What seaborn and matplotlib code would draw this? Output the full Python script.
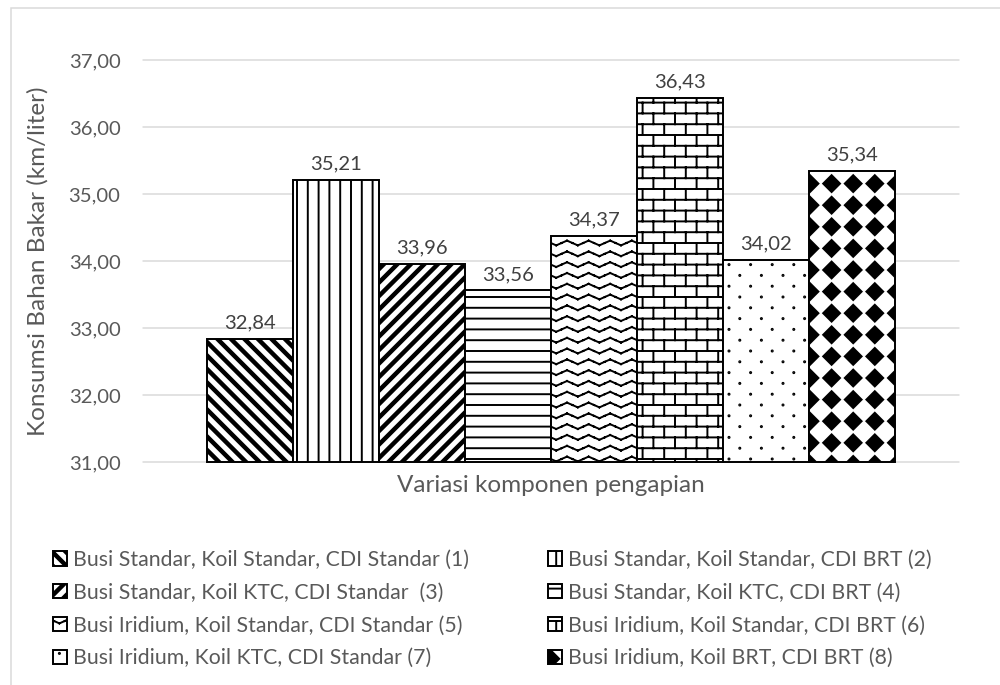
import warnings

import numpy as np
import pandas as pd
import matplotlib
matplotlib.use("Agg")
import matplotlib.pyplot as plt
import matplotlib.hatch as mhatch
from matplotlib.path import Path
from matplotlib.patches import Rectangle
from matplotlib.ticker import FuncFormatter, MultipleLocator
import seaborn as sns

warnings.filterwarnings("ignore", message=".*hatch must consist.*")

# ---------------------------------------------------------------- data
variasi = [
    "Busi Standar, Koil Standar, CDI Standar (1)",
    "Busi Standar, Koil Standar, CDI BRT (2)",
    "Busi Standar, Koil KTC, CDI Standar  (3)",
    "Busi Standar, Koil KTC, CDI BRT (4)",
    "Busi Iridium, Koil Standar, CDI Standar (5)",
    "Busi Iridium, Koil Standar, CDI BRT (6)",
    "Busi Iridium, Koil KTC, CDI Standar (7)",
    "Busi Iridium, Koil BRT, CDI BRT (8)",
]
konsumsi = [32.84, 35.21, 33.96, 33.56, 34.37, 36.43, 34.02, 35.34]
kelompok = ["Variasi komponen pengapian"] * len(variasi)

judul_x = "Variasi komponen pengapian"
judul_y = "Konsumsi Bahan Bakar (km/liter)"

# one fill texture per variation (custom hatch symbols defined below)
tekstur = ["a", "v", "b", "h", "w", "k", "d", "m"]

# ------------------------------------------------- custom hatch textures
MOVE, LINE, CLOSE = Path.MOVETO, Path.LINETO, Path.CLOSEPOLY


def seg(x0, y0, x1, y1):
    return np.array([[x0, y0], [x1, y1]], float), [MOVE, LINE]


def poly(pts):
    pts = np.asarray(pts, float)
    return np.vstack([pts, pts[:1]]), [MOVE] + [LINE] * (len(pts) - 1) + [CLOSE]


def stripes(rising, n, half):
    out = []
    xa, xb = -0.25, 1.25
    for k in range(-n - 1, 2 * n + 2):
        c = k / n
        f = (lambda x, cc: x + cc) if rising else (lambda x, cc: cc - x)
        out.append(poly([(xa, f(xa, c - half)), (xb, f(xb, c - half)),
                         (xb, f(xb, c + half)), (xa, f(xa, c + half))]))
    return out


def vertical_lines(n=10):
    return [seg((k + 0.5) / n, -0.05, (k + 0.5) / n, 1.05) for k in range(n)]


def horizontal_lines(n=10):
    return [seg(-0.05, (k + 0.5) / n, 1.05, (k + 0.5) / n) for k in range(n)]


def waves(rows=10, periods=5, amp=0.022):
    out = []
    xs = np.arange(4 * periods + 1) / (4 * periods)
    offs = np.array([0, 1, 0, -1] * periods + [0]) * amp
    for j in range(rows):
        y0 = (j + 0.5) / rows
        for i in range(len(xs) - 1):
            out.append(seg(xs[i], y0 + offs[i], xs[i + 1], y0 + offs[i + 1]))
    return out


def bricks(rows=10, cols=5):
    out = [seg(-0.05, (j + 0.5) / rows, 1.05, (j + 0.5) / rows) for j in range(rows)]
    for j in range(-1, rows):
        y0, y1 = (j + 0.5) / rows, (j + 1.5) / rows
        for i in range(-1, cols + 1):
            x = (i + 0.25 + 0.5 * (j % 2)) / cols
            out.append(seg(x, y0, x, y1))
    return out


def dots(rows=10, cols=5, r=0.005):
    out = []
    ang = np.linspace(0, 2 * np.pi, 8, endpoint=False)
    for j in range(rows):
        y = (j + 0.5) / rows
        for i in range(cols):
            x = (i + 0.25 + 0.5 * (j % 2)) / cols
            out.append(poly(np.c_[x + r * np.cos(ang), y + r * np.sin(ang)]))
    return out


def diamonds(n=5, r=0.078):
    out = []
    for j in range(n):
        for i in range(n):
            x, y = (i + 0.5) / n, (j + 0.5) / n
            out.append(poly([(x, y - r), (x + r, y), (x, y + r), (x - r, y)]))
    return out


def make_texture(symbol, builder):
    class Texture(mhatch.HatchPatternBase):
        def __init__(self, hatch, density):
            self.parts = builder() if (hatch and symbol in hatch) else []
            self.num_vertices = sum(len(v) for v, _ in self.parts)

        def set_vertices_and_codes(self, vertices, codes):
            i = 0
            for v, c in self.parts:
                vertices[i:i + len(v)] = v
                codes[i:i + len(v)] = c
                i += len(v)
    return Texture


mhatch._hatch_types.extend([
    make_texture("a", lambda: stripes(False, 8, 0.0165)),
    make_texture("b", lambda: stripes(True, 8, 0.0165)),
    make_texture("v", vertical_lines),
    make_texture("h", horizontal_lines),
    make_texture("w", waves),
    make_texture("k", bricks),
    make_texture("d", dots),
    make_texture("m", diamonds),
])

# --------------------------------------------------------------- style
sns.set_style("white")
plt.rcParams["font.family"] = ["Lato", "DejaVu Sans"]
plt.rcParams["hatch.linewidth"] = 1.3
plt.rcParams["hatch.color"] = "black"

TXT = "#595959"
LBL = "#404040"
GRID = "#d9d9d9"
FS_TICK = 13.5
FS_TITLE = 16.2
FS_LEG = 14.2

DPI = 108
W, H = 1000, 685
fig = plt.figure(figsize=(W / DPI, H / DPI), dpi=DPI)
ax = fig.add_axes([143 / W, 1 - 462 / H, (959 - 143) / W, (462 - 60) / H])

df = pd.DataFrame({"kelompok": kelompok, "variasi": variasi, "konsumsi": konsumsi})
sns.barplot(
    data=df, x="kelompok", y="konsumsi", hue="variasi", hue_order=variasi,
    palette=["white"] * len(variasi), saturation=1, edgecolor="black",
    linewidth=1.3, width=0.843, gap=0, errorbar=None, legend=False, ax=ax,
)

ax.set_xlim(-0.5, 0.5)
ax.set_ylim(31, 37)
floor = ax.get_ylim()[0]

# bars start at the axis floor so their lower edge is visible
for cont, pat in zip(ax.containers, tekstur):
    for bar in cont.patches:
        top = bar.get_y() + bar.get_height()
        bar.set_y(floor)
        bar.set_height(top - floor)
        bar.set_hatch(pat)
        bar.set_clip_on(False)
    ax.bar_label(cont, fmt=lambda v: f"{v:.2f}".replace(".", ","),
                 padding=5, color=LBL, fontsize=FS_TICK)

# axes styling
for s in ax.spines.values():
    s.set_visible(False)
ax.yaxis.set_major_locator(MultipleLocator(1))
ax.yaxis.set_major_formatter(FuncFormatter(lambda v, _: f"{v:.2f}".replace(".", ",")))
ax.yaxis.grid(True, color=GRID, linewidth=1.0)
for gl in ax.get_ygridlines():
    gl.set_clip_on(False)
ax.set_axisbelow(True)
ax.tick_params(axis="y", length=0, pad=15, labelsize=FS_TICK, labelcolor=TXT)
ax.tick_params(axis="x", bottom=False, labelbottom=False)

ax.set_xlabel(judul_x, fontsize=FS_TITLE, color=TXT, va="center")
ax.xaxis.set_label_coords(0.5, -(486 - 462) / (462 - 60))
ax.set_ylabel(judul_y, fontsize=FS_TITLE, color=TXT, va="center")
ax.yaxis.set_label_coords((38 - 143) / (959 - 143), 0.5)

# legend in two columns, read row by row
handles = [c.patches[0] for c in ax.containers]
for idx, x0 in (([0, 2, 4, 6], 53), ([1, 3, 5, 7], 548)):
    fig.legend(
        [handles[i] for i in idx], [variasi[i] for i in idx],
        loc="upper left", bbox_to_anchor=(x0 / W, 1 - 550 / H),
        frameon=False, fontsize=FS_LEG, labelcolor=TXT,
        handlelength=0.66, handleheight=0.66, handletextpad=0.28,
        labelspacing=0.6, borderpad=0, borderaxespad=0,
    )

# chart frame
fig.add_artist(Rectangle((10.5 / W, -0.05), 1.0, 1.05 - 7.5 / H,
                         transform=fig.transFigure, facecolor="none",
                         edgecolor=GRID, linewidth=1.0, clip_on=False))

fig.savefig("out.png", dpi=DPI)
